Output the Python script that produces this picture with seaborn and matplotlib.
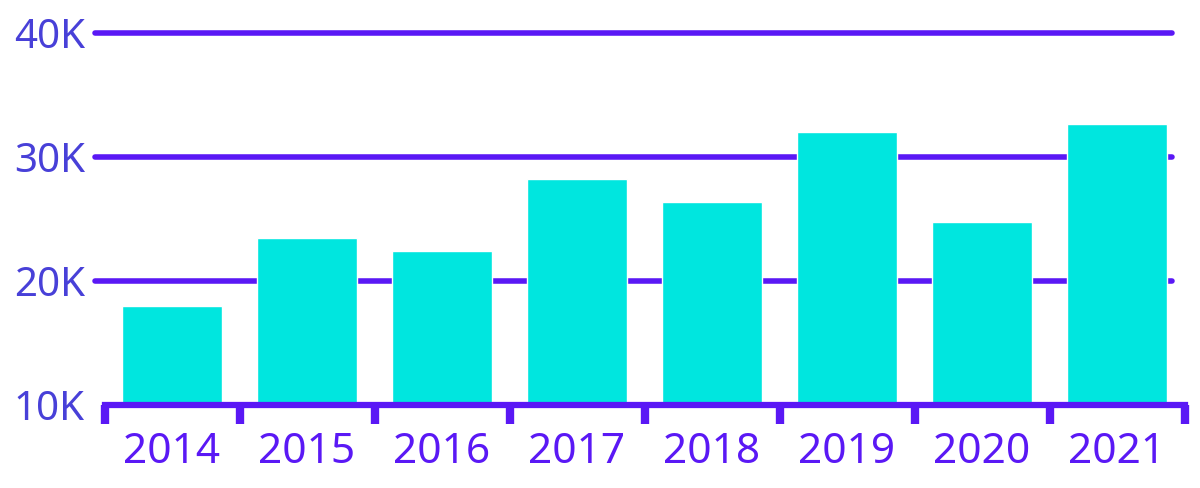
import matplotlib
matplotlib.use("Agg")
import matplotlib.pyplot as plt
import matplotlib.ticker as mticker
import seaborn as sns
import pandas as pd

years = ["2014", "2015", "2016", "2017", "2018", "2019", "2020", "2021"]
values = [17950, 23450, 22400, 28250, 26350, 32050, 24800, 32700]
y_ticks = [10000, 20000, 30000, 40000]
y_labels = ["10K", "20K", "30K", "40K"]

BAR = "#00E6DF"
LINE = "#5A18F5"
YTXT = "#4840D8"

sns.set_theme(style="white")
plt.rcParams["font.family"] = ["Noto Sans", "DejaVu Sans"]

df = pd.DataFrame({"year": years, "value": values})

fig = plt.figure(figsize=(12, 4.88), dpi=100)
ax = fig.add_axes([0.0871, 0.170, 0.900, 0.762])

# gridlines behind bars
for yv in y_ticks[1:]:
    ax.axhline(yv, xmin=-0.009, xmax=0.988, color=LINE, linewidth=4,
               zorder=0, clip_on=False)

sns.barplot(data=df, x="year", y="value", color=BAR, width=0.74,
            saturation=1, ax=ax, zorder=2)

ax.set_xlim(-0.5, len(years) - 0.5)
ax.set_ylim(10000, 40000)
ax.set_yticks(y_ticks)
ax.set_yticklabels(y_labels)
ax.set_xlabel("")
ax.set_ylabel("")

for s in ["top", "right", "left"]:
    ax.spines[s].set_visible(False)
ax.spines["bottom"].set_color(LINE)
ax.spines["bottom"].set_linewidth(4.5)
ax.spines["bottom"].set_zorder(3)

# boundary ticks between categories
ax.xaxis.set_minor_locator(mticker.FixedLocator([i - 0.5 for i in range(len(years) + 1)]))
ax.tick_params(axis="x", which="minor", bottom=True, length=14, width=6,
               color=LINE, direction="out")
ax.tick_params(axis="x", which="major", bottom=True, length=0, pad=19,
               labelsize=30.5, labelcolor=LINE)
ax.tick_params(axis="y", length=0, pad=14, labelsize=29, labelcolor=YTXT)

fig.savefig("out.png", dpi=100)
plt.close()
